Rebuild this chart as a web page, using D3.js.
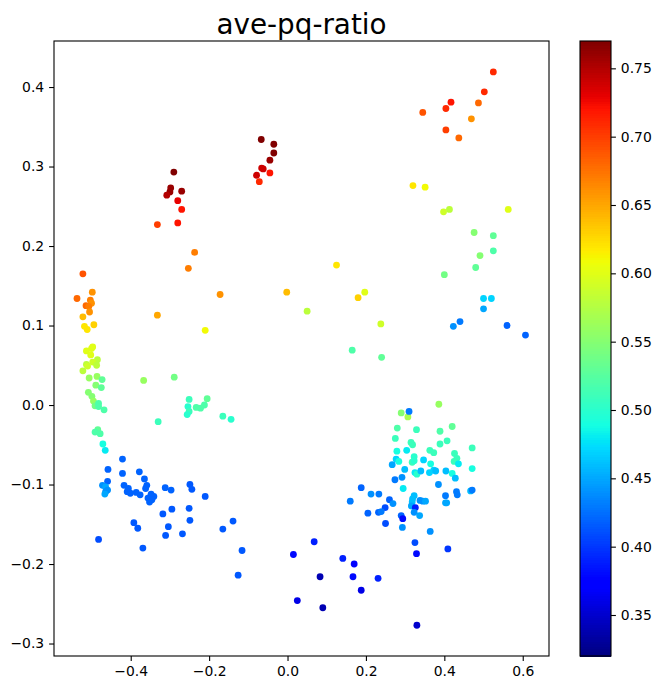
<!DOCTYPE html>
<html><head><meta charset="utf-8">
<script src="https://cdn.jsdelivr.net/npm/d3@7"></script>
<style>html,body{margin:0;padding:0;background:#fff}svg{display:block}text{font-family:"DejaVu Sans",sans-serif;fill:#000}</style>
</head><body><svg id="c" width="661" height="690"></svg>
<script>
const titleText="ave-pq-ratio";
const xTicks=[-0.4,-0.2,0,0.2,0.4,0.6];
const yTicks=[-0.3,-0.2,-0.1,0,0.1,0.2,0.3,0.4];
const cTicks=[0.35,0.4,0.45,0.5,0.55,0.6,0.65,0.7,0.75];
const xDomain=[-0.5957,0.667], yDomain=[-0.3157,0.4579], cDomain=[0.32,0.77];
const topRight=[[.525,.419,.71],[.502,.394,.71],[.487,.38,.68],[.469,.36,.66],[.437,.336,.68],[.404,.346,.7],[.404,.373,.71],[.417,.381,.72],[.345,.368,.69]];
const rightArc=[[.32,.276,.62],[.351,.274,.61],[.398,.243,.59],[.413,.246,.58],[.563,.246,.6],[.476,.217,.55],[.525,.213,.53],[.525,.194,.52],[.491,.188,.55],[.48,.173,.53],[.4,.164,.54],[.5,.134,.47],[.52,.134,.47],[.5,.121,.45],[.44,.105,.43],[.423,.099,.44],[.56,.1,.42],[.607,.088,.42]];
const middle=[[-.002,.142,.64],[.05,.118,.58],[.125,.176,.62],[.18,.135,.63],[.197,.142,.6],[.238,.102,.59],[.165,.069,.52],[.24,.06,.53]];
const redA=[[-.067,.334,.77],[-.035,.328,.77],[-.035,.317,.77],[-.045,.308,.76],[-.066,.298,.74],[-.062,.297,.74],[-.045,.292,.72],[-.079,.289,.74],[-.072,.281,.71]];
const redB=[[-.29,.293,.77],[-.298,.273,.76],[-.3,.268,.76],[-.308,.264,.75],[-.27,.269,.76],[-.28,.257,.73],[-.27,.246,.72],[-.28,.229,.72],[-.332,.227,.7],[-.237,.192,.67],[-.253,.172,.67],[-.172,.139,.66],[-.332,.113,.65],[-.21,.094,.61]];
const leftColumn=[[-.522,.165,.69],[-.498,.142,.66],[-.537,.134,.68],[-.503,.132,.67],[-.5,.128,.66],[-.514,.125,.68],[-.507,.124,.67],[-.505,.117,.66],[-.522,.111,.64],[-.494,.101,.63],[-.518,.099,.62],[-.511,.095,.62],[-.497,.073,.6],[-.5,.071,.6],[-.513,.068,.6],[-.502,.063,.6],[-.485,.057,.58],[-.497,.054,.59],[-.513,.051,.58],[-.51,.049,.59],[-.487,.05,.58],[-.522,.043,.58],[-.486,.036,.56],[-.506,.034,.56],[-.473,.032,.53],[-.489,.025,.55],[-.475,.022,.53],[-.508,.016,.55],[-.499,.011,.55],[-.495,.005,.56],[-.491,-.001,.54],[-.482,.002,.52],[-.482,-.002,.52],[-.468,-.006,.52],[-.367,.031,.56],[-.33,-.021,.51],[-.484,-.031,.53],[-.491,-.034,.52],[-.478,-.036,.52],[-.471,-.049,.49],[-.465,-.057,.48]];
const lowerLeft=[[-.421,-.068,.42],[-.458,-.081,.42],[-.421,-.086,.42],[-.378,-.084,.42],[-.365,-.093,.42],[-.459,-.096,.42],[-.359,-.101,.42],[-.362,-.105,.42],[-.417,-.101,.42],[-.406,-.105,.42],[-.409,-.109,.42],[-.401,-.111,.42],[-.386,-.11,.42],[-.376,-.113,.42],[-.348,-.112,.42],[-.341,-.115,.42],[-.349,-.115,.42],[-.356,-.117,.42],[-.346,-.119,.42],[-.352,-.122,.42],[-.472,-.101,.44],[-.464,-.103,.45],[-.459,-.107,.44],[-.464,-.109,.44],[-.466,-.112,.45],[-.312,-.104,.42],[-.297,-.107,.42],[-.249,-.1,.415],[-.244,-.106,.415],[-.21,-.115,.415],[-.251,-.13,.415],[-.295,-.131,.415],[-.318,-.137,.415],[-.249,-.145,.415],[-.392,-.148,.415],[-.382,-.155,.415],[-.304,-.153,.415],[-.311,-.164,.415],[-.268,-.162,.415],[-.165,-.156,.415],[-.482,-.169,.41],[-.369,-.18,.415],[-.139,-.146,.415],[-.116,-.183,.415],[-.126,-.214,.415]];
const bottomArc=[[.015,-.188,.38],[.068,-.172,.39],[.083,-.216,.34],[.025,-.246,.36],[.09,-.255,.34],[.141,-.193,.39],[.17,-.2,.37],[.167,-.216,.38],[.188,-.233,.36],[.231,-.218,.39],[.33,-.277,.35]];
const lowerRight=[[.386,.001,.56],[.29,-.01,.55],[.307,-.015,.57],[.31,-.008,.43],[.28,-.029,.52],[.329,-.031,.51],[.389,-.033,.52],[.42,-.027,.53],[.275,-.042,.51],[.407,-.045,.51],[.389,-.049,.51],[.315,-.047,.51],[.319,-.05,.51],[.471,-.054,.51],[.279,-.058,.49],[.304,-.057,.48],[.323,-.065,.5],[.363,-.057,.51],[.373,-.06,.51],[.426,-.061,.51],[.432,-.067,.51],[.347,-.069,.47],[.318,-.072,.51],[.323,-.07,.5],[.277,-.068,.47],[.284,-.071,.49],[.267,-.075,.45],[.365,-.074,.49],[.425,-.071,.51],[.436,-.074,.48],[.299,-.081,.46],[.471,-.08,.49],[.325,-.085,.48],[.33,-.087,.5],[.34,-.083,.46],[.362,-.085,.47],[.373,-.082,.47],[.378,-.083,.46],[.404,-.083,.46],[.42,-.086,.49],[.428,-.092,.46],[.292,-.091,.44],[.274,-.094,.43],[.385,-.1,.44],[.295,-.105,.48],[.188,-.104,.42],[.213,-.112,.44],[.233,-.112,.43],[.16,-.121,.43],[.26,-.119,.42],[.269,-.124,.44],[.249,-.129,.41],[.323,-.114,.46],[.319,-.118,.46],[.318,-.122,.46],[.316,-.127,.45],[.338,-.12,.44],[.345,-.121,.44],[.352,-.121,.45],[.403,-.114,.43],[.431,-.109,.43],[.433,-.113,.43],[.467,-.108,.46],[.471,-.107,.43],[.403,-.123,.45],[.406,-.123,.45],[.205,-.136,.42],[.232,-.135,.42],[.239,-.134,.43],[.326,-.129,.39],[.323,-.135,.44],[.337,-.139,.45],[.29,-.139,.42],[.294,-.143,.38],[.25,-.149,.41],[.293,-.154,.44],[.364,-.159,.44],[.325,-.173,.41],[.329,-.187,.38],[.409,-.181,.4]];
const midLow=[[-.205,.008,.53],[-.212,0,.52],[-.222,-.004,.52],[-.233,-.003,.52],[-.251,.007,.51],[-.254,-.002,.5],[-.251,-.008,.51],[-.256,-.012,.5],[-.165,-.014,.51],[-.144,-.018,.5],[-.289,.035,.54]];

const points=[].concat(topRight,rightArc,middle,redA,redB,leftColumn,lowerLeft,bottomArc,lowerRight,midLow);

const L=54,R=549,T=41,B=656,CL=580,CR=611,tickLen=4.9,lw=1.1,fs=13.9;
const x=d3.scaleLinear().domain(xDomain).range([L,R]);
const y=d3.scaleLinear().domain(yDomain).range([B,T]);
const cy=d3.scaleLinear().domain(cDomain).range([B,T]);
const norm=d3.scaleLinear().domain(cDomain).range([0,1]).clamp(true);
const rS=d3.scaleLinear().domain([0,.35,.66,.89,1]).range([0,0,1,1,.5]);
const gS=d3.scaleLinear().domain([0,.125,.375,.64,.91,1]).range([0,0,1,1,0,0]);
const bS=d3.scaleLinear().domain([0,.11,.34,.65,1]).range([.5,1,1,0,0]);
const jet=t=>d3.rgb(rS(t)*255,gS(t)*255,bS(t)*255).formatRgb();

const svg=d3.select("#c");
svg.append("g").selectAll("circle").data(points).join("circle")
  .attr("cx",d=>x(d[0])).attr("cy",d=>y(d[1])).attr("r",3.4)
  .attr("fill",d=>jet(norm(d[2])));

function style(g){
  g.select(".domain").remove();
  g.selectAll("line").attr("stroke","#000").attr("stroke-width",lw);
  g.selectAll("text").style("font-size",fs+"px").style("font-family",'"DejaVu Sans",sans-serif');
}
const fmt=d3.format(".1f");
svg.append("g").attr("transform",`translate(0,${B})`)
  .call(d3.axisBottom(x).tickValues(xTicks).tickFormat(fmt).tickSize(tickLen).tickPadding(4.9)).call(style);
svg.append("g").attr("transform",`translate(${L},0)`)
  .call(d3.axisLeft(y).tickValues(yTicks).tickFormat(fmt).tickSize(tickLen).tickPadding(4.9)).call(style);
svg.append("rect").attr("x",L).attr("y",T).attr("width",R-L).attr("height",B-T)
  .attr("fill","none").attr("stroke","#000").attr("stroke-width",lw);

svg.append("text").attr("x",(L+R)/2).attr("y",T-7).attr("text-anchor","middle")
  .style("font-size","27.8px").text(titleText);

const bands=d3.range(256);
const bandV=i=>cDomain[0]+(cDomain[1]-cDomain[0])*i/256;
svg.append("g").attr("shape-rendering","crispEdges").selectAll("rect").data(bands).join("rect")
  .attr("x",CL).attr("width",CR-CL)
  .attr("y",i=>cy(bandV(i+1))).attr("height",i=>cy(bandV(i))-cy(bandV(i+1))+.5)
  .attr("fill",i=>jet((i+.5)/256));
svg.append("g").attr("transform",`translate(${CR},0)`)
  .call(d3.axisRight(cy).tickValues(cTicks).tickFormat(d3.format(".2f")).tickSize(tickLen).tickPadding(4.9)).call(style);
svg.append("rect").attr("x",CL).attr("y",T).attr("width",CR-CL).attr("height",B-T)
  .attr("fill","none").attr("stroke","#000").attr("stroke-width",lw);
</script></body></html>
